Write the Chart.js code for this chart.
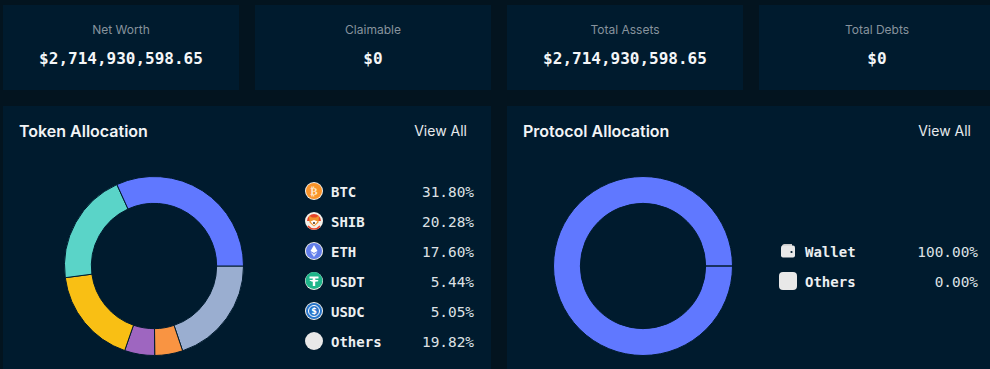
<!DOCTYPE html>
<html>
<head>
<meta charset="utf-8">
<script src="https://cdn.jsdelivr.net/npm/chart.js@4"></script>
<style>
    html, body { margin: 0; height: 100%; overflow: hidden; background: #03141f; }
    body { position: relative; width: 990px; height: 369px; font-family: Inter, sans-serif; color: #f2f4f6; }
    .card, .panel { position: absolute; background: #001b2e; }
    .card { top: 5px; width: 236px; height: 85px; text-align: center; }
    .card .label { position: absolute; left: 0; right: 0; top: 17px; font-size: 12px; line-height: 15px; color: #87939d; }
    .card .value { position: absolute; left: 0; right: 0; top: 44px; font: 700 16px/20px "DejaVu Sans Mono", monospace; color: #f4f6f8; }
    .panel { top: 106px; height: 263px; width: 488px; }
    .panel h3 { position: absolute; left: 16px; top: 15px; margin: 0; font-size: 16px; line-height: 20px; font-weight: 600; }
    .panel .all { position: absolute; top: 16px; right: 24px; font-size: 14px; line-height: 18px; color: #e6e9ec; }
    .chart { position: absolute; top: 60px; width: 200px; height: 200px; }
    .row { position: absolute; height: 20px; font: 14.4px/20px "DejaVu Sans Mono", monospace; }
    .row b { position: absolute; left: 0; top: 0; font-size: 14px; font-weight: 600; color: #eceff1; white-space: nowrap; }
    .row span { position: absolute; right: 0; top: 0; color: #dde1e5; white-space: nowrap; }
    .row svg { position: absolute; top: 0; left: 0; }
</style>
</head>
<body>
<div class="card" style="left:3px"><div class="label">Net Worth</div><div class="value" id="v0"></div></div>
<div class="card" style="left:255px"><div class="label">Claimable</div><div class="value" id="v1"></div></div>
<div class="card" style="left:507px"><div class="label">Total Assets</div><div class="value" id="v2"></div></div>
<div class="card" style="left:759px"><div class="label">Total Debts</div><div class="value" id="v3"></div></div>

<div class="panel" style="left:3px">
    <h3>Token Allocation</h3><div class="all">View All</div>
    <div class="chart" style="left:51px"><canvas id="tokenChart"></canvas></div>
    <div id="tokenLegend"></div>
</div>
<div class="panel" style="left:507px">
    <h3>Protocol Allocation</h3><div class="all">View All</div>
    <div class="chart" style="left:36px"><canvas id="protocolChart"></canvas></div>
    <div id="protocolLegend"></div>
</div>

<script>
// Summary cards
const summaryValues = ['$2,714,930,598.65', '$0', '$2,714,930,598.65', '$0'];

// Token Allocation
const tokenNames = ['BTC', 'SHIB', 'ETH', 'USDT', 'USDC', 'Others'];
const tokenShares = [31.80, 20.28, 17.60, 5.44, 5.05, 19.82];
const tokenColors = ['#6078ff', '#5ad4c8', '#f9bf14', '#9e66c0', '#f99442', '#9aaed0'];

// Protocol Allocation
const protocolNames = ['Wallet', 'Others'];
const protocolShares = [100.00, 0.00];
const protocolColors = ['#6078ff', '#9aaed0'];

// Legend icons
const icons = {
    BTC: '<circle cx="9" cy="9" r="9" fill="#f4f1ea"/><circle cx="9" cy="9" r="8" fill="#f9942a"/><text x="9" y="13" font-size="11" font-weight="700" text-anchor="middle" fill="#fde6c8" font-family="DejaVu Sans">₿</text>',
    SHIB: '<circle cx="9" cy="9" r="9" fill="#f4f1ea"/><path d="M2 9a7 7 0 0 1 14 0z" fill="#e8442a"/><path d="M3 14a7.500 7.500 0 0 0 12 0" fill="none" stroke="#e8442a" stroke-width="1.400"/><path d="M4 3.500l3 2h4l3-2-.5 7L9 14.500 4.500 10.500z" fill="#f0932b"/><path d="M5.500 9.500L9 8l3.500 1.500L9 13.500z" fill="#fff"/><circle cx="9" cy="11" r="1" fill="#3a2a20"/>',
    ETH: '<circle cx="9" cy="9" r="9" fill="#f4f1ea"/><circle cx="9" cy="9" r="8" fill="#627eea"/><path d="M9 3l3.500 6L9 11 5.500 9z" fill="#fff"/><path d="M9 12l3.500-2L9 15l-3.500-5z" fill="#dfe4fb"/>',
    USDT: '<circle cx="9" cy="9" r="9" fill="#f4f1ea"/><circle cx="9" cy="8.500" r="8.500" fill="#1fb58a"/><path d="M4.500 4.500h9v2H10.200v1.300c1.900.1 3.300.5 3.300 1s-1.400.9-3.300 1V14H7.800v-4.200c-1.900-.1-3.300-.5-3.300-1s1.400-.9 3.300-1V6.500H4.500z" fill="#fff"/>',
    USDC: '<circle cx="9" cy="9" r="9" fill="#f4f1ea"/><circle cx="9" cy="9" r="8" fill="#2775ca"/><circle cx="9" cy="9" r="5.500" fill="none" stroke="#fff" stroke-width="1"/><text x="9" y="12" font-size="8" font-weight="700" text-anchor="middle" fill="#fff" font-family="DejaVu Sans">$</text>',
    Others: '<circle cx="9" cy="9" r="9" fill="#e8e8e8"/>',
    Wallet: '<path d="M3 4.500Q3 2 5.500 2H13v2z" fill="#c9c9c9"/><rect x="2" y="3.500" width="14" height="12" rx="2" fill="#e8e8e8"/><circle cx="12.500" cy="10" r="1.100" fill="#001b2e"/>',
    OthersSquare: '<rect width="18" height="18" rx="4" fill="#e8e8e8"/>'
};

function fmtShare(v) {
    return v.toFixed(2) + '%';
}

function buildLegend(id, names, shares, left, width, startY, iconFor) {
    let html = '';
    names.forEach((name, i) => {
        const top = startY + i * 30;
        html += `
            <div class="row" style="left:${left}px;width:${width}px;top:${top}px">
                <svg width="18" height="18" viewBox="0 0 18 18">${iconFor(name)}</svg>
                <b style="left:26px">${name}</b>
                <span>${fmtShare(shares[i])}</span>
            </div>`;
    });
    document.getElementById(id).innerHTML = html;
}

function loadDonut(canvasId, shares, colors) {
    // chart.js only goes clockwise, the picture runs the other way from 3 o'clock
    new Chart(document.getElementById(canvasId), {
        type: 'doughnut',
        data: {
            datasets: [{
                data: shares.slice().reverse(),
                backgroundColor: colors.slice().reverse(),
                borderColor: '#001b2e',
                borderWidth: 1
            }]
        },
        options: {
            responsive: true,
            maintainAspectRatio: false,
            animation: false,
            rotation: 90,
            cutout: '70%',
            layout: { padding: 10 },
            plugins: { legend: { display: false }, tooltip: { enabled: false } }
        }
    });
}

summaryValues.forEach((v, i) => document.getElementById('v' + i).textContent = v);
buildLegend('tokenLegend', tokenNames, tokenShares, 302, 169, 76, name => icons[name]);
buildLegend('protocolLegend', protocolNames, protocolShares, 272, 199, 136,
    name => name === 'Others' ? icons.OthersSquare : icons[name]);
loadDonut('tokenChart', tokenShares, tokenColors);
loadDonut('protocolChart', protocolShares, protocolColors);
</script>
</body>
</html>
